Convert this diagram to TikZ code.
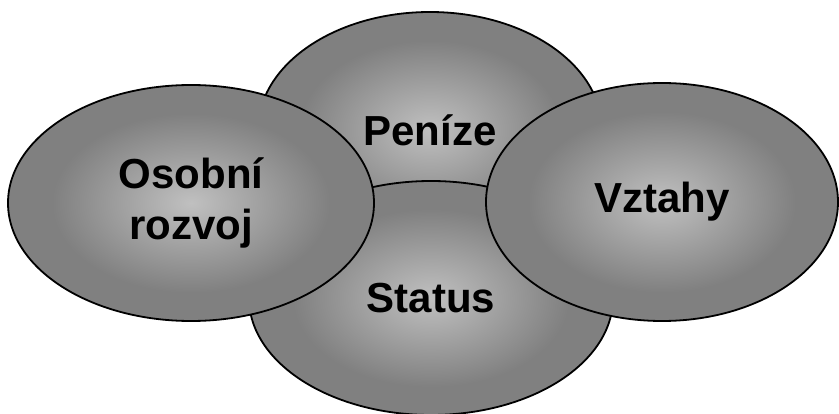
\documentclass[tikz,border=0pt]{standalone}
\usepackage{fontspec}
\setmainfont{Liberation Sans}
\usetikzlibrary{shapes.geometric}
\definecolor{blobin}{RGB}{192,192,192}
\definecolor{blobout}{RGB}{128,128,128}
\pgfdeclareradialshading{blobshade}{\pgfpoint{0bp}{0bp}}{color(0bp)=(blobin); color(19bp)=(blobout); color(50bp)=(blobout)}

\begin{document}
\begin{tikzpicture}[x=1pt, y=-1pt]
	\useasboundingbox (0,0) rectangle (839,414);
	\begin{scope}[every node/.style={ellipse, draw=black, line width=1.8pt,
	                                  shading=blobshade, inner sep=0pt,
	                                  font=\fontsize{42}{51}\selectfont\bfseries,
	                                  align=center}]
		\node[minimum width=344pt, minimum height=236pt] (penize) at (430,130) {Peníze};
		\node[minimum width=364pt, minimum height=234pt] (status) at (431,298) {Status};
		\node[minimum width=366pt, minimum height=236pt] (osobni) at (191,203) {Osobní\\rozvoj};
		\node[minimum width=352pt, minimum height=238pt] (vztahy) at (662,202) {Vztahy};
	\end{scope}
\end{tikzpicture}
\end{document}
